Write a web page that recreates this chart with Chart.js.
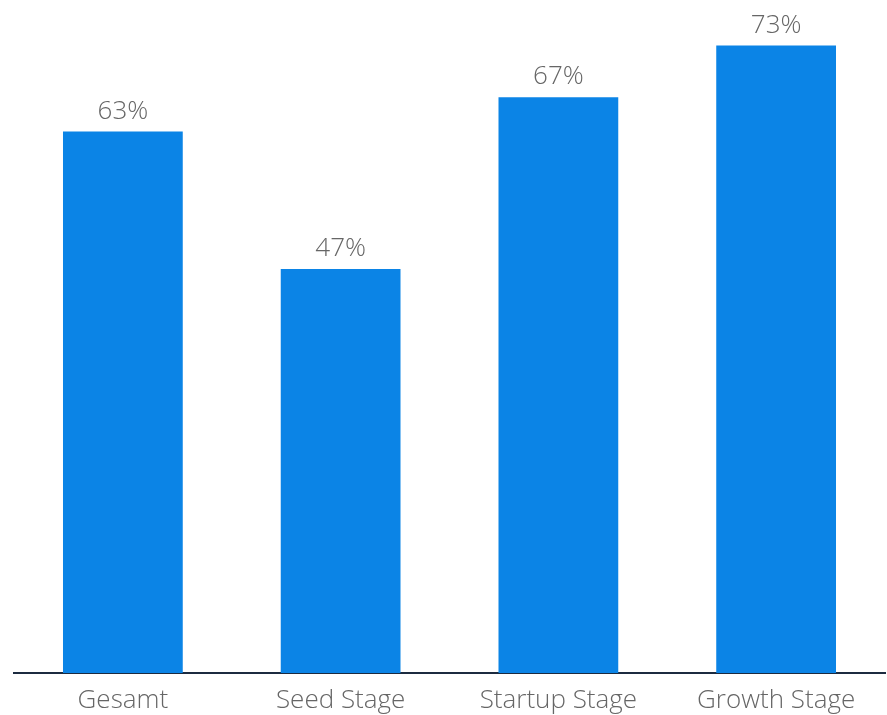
<!DOCTYPE html>
<html>
<head>
<meta charset="utf-8">
<script src="https://cdn.jsdelivr.net/npm/chart.js@4"></script>
<style>
  html, body { margin: 0; padding: 0; background: #fff; }
  #wrap { width: 887px; height: 715px; }
</style>
</head>
<body>
<div id="wrap"><canvas id="chart" width="887" height="715"></canvas></div>
<script>
var categories = ['Gesamt', 'Seed Stage', 'Startup Stage', 'Growth Stage'];
var values = [63, 47, 67, 73];

var valueLabels = {
    id: 'valueLabels',
    afterDatasetsDraw: function (chart) {
        var ctx = chart.ctx;
        var meta = chart.getDatasetMeta(0);
        ctx.save();
        ctx.font = '300 26px "Open Sans"';
        ctx.fillStyle = '#666666';
        ctx.textAlign = 'center';
        ctx.textBaseline = 'alphabetic';
        meta.data.forEach(function (bar, i) {
            ctx.fillText(values[i] + '%', bar.x, bar.y - 13);
        });
        ctx.restore();
    }
};

var config = {
    type: 'bar',
    data: {
        labels: categories,
        datasets: [{
            data: values,
            backgroundColor: '#0b84e6',
            barPercentage: 0.55,
            categoryPercentage: 1
        }]
    },
    options: {
        responsive: false,
        animation: false,
        layout: {
            padding: { left: 14, right: 2, top: 0, bottom: 0 }
        },
        plugins: {
            legend: { display: false },
            tooltip: { enabled: false }
        },
        scales: {
            x: {
                grid: { display: false, drawTicks: false },
                border: { color: '#1c2b40', width: 2 },
                ticks: {
                    color: '#666666',
                    padding: 12,
                    font: { family: 'Open Sans', size: 26, weight: '300' }
                },
                afterFit: function (scale) {
                    scale.height = 42;
                }
            },
            y: {
                display: false,
                min: 0,
                max: 78.3
            }
        }
    },
    plugins: [valueLabels]
};

var ctx = document.getElementById('chart').getContext('2d');
new Chart(ctx, config);
</script>
</body>
</html>
